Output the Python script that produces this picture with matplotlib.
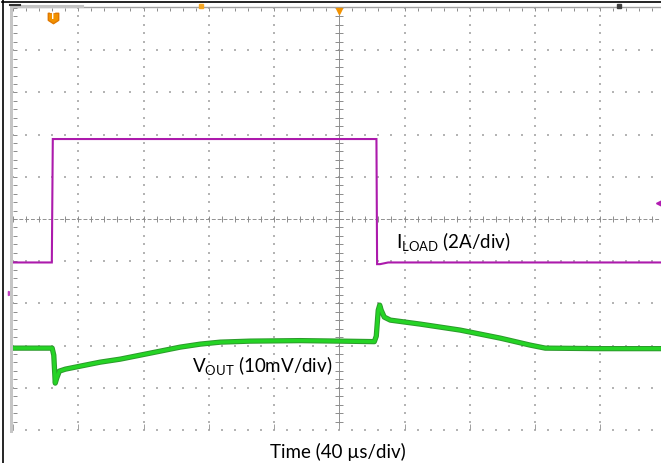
import numpy as np
import matplotlib
matplotlib.use('Agg')
import matplotlib.pyplot as plt
from matplotlib.lines import Line2D
from matplotlib.patches import Rectangle
from matplotlib.path import Path

plt.rcParams['font.family'] = ['Lato', 'DejaVu Sans']
plt.rcParams['mathtext.fontset'] = 'custom'
plt.rcParams['mathtext.rm'] = 'Lato'

W, H = 661, 463

# Scope settings
time_per_div = 40      # us/div
iload_per_div = 2      # A/div
vout_per_div = 10      # mV/div
iload_pos = -1.03      # channel offsets in divisions
vout_pos = -3.06

# Load current step (time in us, current in A)
iload_t = [-200, -176.2, -175.6, 22.8, 23.2, 25.0, 30.0, 200]
iload_a = [0.0, 0.0, 5.85, 5.85, -0.08, -0.08, 0.0, 0.0]

# Output voltage deviation (time in us, mV)
vout_t = [-200, -176.0, -175.0, -174.1, -173.2, -171.6, -167.9, -158.8, -146.5,
          -134.3, -122.0, -109.7, -97.5, -85.2, -72.9, -54.6, -23.9, 0.6,
          21.5, 22.7, 23.9, 24.8, 25.7, 27.6, 31.3, 49.7, 74.2, 98.7, 117.1,
          126.3, 160.0, 200]
vout_mv = [0.0, 0.0, -1.66, -8.29, -7.11, -5.45, -4.98, -4.27, -3.32,
           -2.61, -1.66, -0.71, 0.24, 0.95, 1.42, 1.66, 1.78, 1.66,
           1.54, 2.84, 9.0, 10.19, 9.0, 7.35, 6.64, 5.69, 4.27, 2.37, 0.71,
           0.0, -0.12, -0.12]

fig = plt.figure(figsize=(W / 100, H / 100), dpi=100)
fig.patch.set_facecolor('white')


def fx(x):
    return x / W


def fy(y):
    return 1 - y / H


# graticule: 10 x 10 divisions, right edge runs off the screenshot
ax = fig.add_axes([fx(13), fy(430), 652.5 / W, 422 / H])
ax.set_xlim(-200, 200)
ax.set_ylim(-5, 5)
ax.axis('off')

grid_c = '#b4b4b4'
xs_minor = np.arange(-200, 200.1, time_per_div / 5)
ys_minor = np.arange(-5, 5.01, 0.2)

# dotted division lines
for k in range(-4, 5):
    if k == 0:
        continue
    ax.scatter(xs_minor, np.full_like(xs_minor, k), s=0.7, marker='s',
               color=grid_c, linewidths=0)
    ax.scatter(np.full_like(ys_minor, k * time_per_div), ys_minor, s=0.7,
               marker='s', color=grid_c, linewidths=0)
ax.scatter(xs_minor, np.full_like(xs_minor, -5), s=0.7, marker='s',
           color=grid_c, linewidths=0, clip_on=False)

# centre axes with tick marks
ax.axhline(0, color='#909090', lw=0.7, ls=(0, (4, 2)))
ax.axvline(0, color='#909090', lw=0.7)
ax.vlines(xs_minor, -0.07, 0.07, color='#8c8c8c', lw=0.7)
ax.hlines(ys_minor, -2.4, 2.4, color='#8c8c8c', lw=0.7)

# top and bottom edge ticks
ax.plot([-200, 200], [5.02, 5.02], color='#a0a0a0', lw=1.0, clip_on=False)
ax.plot([-200, -158], [5.05, 5.05], color='#c4c4c4', lw=2.2, clip_on=False)
ax.vlines(xs_minor, 4.92, 5, color='#8c8c8c', lw=0.7)
ax.vlines(np.arange(-200, 201, time_per_div), -5, -4.85, color='#a0a0a0', lw=0.7)
ax.hlines(ys_minor, -200, -197.5, color='#8c8c8c', lw=0.7)

# left bar of the graticule
fig.add_artist(Rectangle((fx(10), fy(433)), 3 / W, 428 / H,
                         transform=fig.transFigure, color='#c6c6c6', lw=0))

# traces
it = np.array(iload_t)
iy = np.array(iload_a) / iload_per_div + iload_pos
ax.plot(it, iy, color='#ac1aac', lw=1.5, solid_joinstyle='miter')

vt = np.array(vout_t)
vy = np.array(vout_mv) / vout_per_div + vout_pos
ax.plot(vt, vy, color='#2c9a2c', lw=3.8, solid_capstyle='butt')
ax.plot(vt, vy, color='#25d425', lw=2.4, solid_capstyle='butt')

# trigger badge
shield = Path([(-1, 1), (1, 1), (1, -0.35), (0, -1), (-1, -0.35), (-1, 1)],
              [Path.MOVETO, Path.LINETO, Path.LINETO, Path.LINETO,
               Path.LINETO, Path.CLOSEPOLY])
ax.plot([-175.5], [4.77], marker=shield, ms=7.5, color='#f29200',
        mec='#e07800', clip_on=False)
ax.text(-175.5, 4.80, 'T', color='white', fontsize=5.5, fontweight='bold',
        ha='center', va='center', family='DejaVu Sans')
ax.plot([0], [4.93], marker='v', ms=5, color='#f29200', clip_on=False)
ax.plot([-84.6], [5.05], marker='s', ms=3.2, color='#f5a623', clip_on=False)
ax.plot([171.6], [5.05], marker='s', ms=2.6, color='#404040', clip_on=False)

# channel markers
ax.plot([196.0], [0.38], marker='<', ms=5, color='#b21cb2', clip_on=False)
ax.plot([-201.8], [-1.75], marker='>', ms=3, color='#c040c0', clip_on=False)

# outer frame
fig.add_artist(Line2D([fx(2.5), fx(2.5)], [0, 1], transform=fig.transFigure,
                      color='black', lw=1.2))
fig.add_artist(Line2D([fx(2), 1], [fy(1.5), fy(1.5)], transform=fig.transFigure,
                      color='black', lw=1.2))
fig.add_artist(Line2D([fx(10), fx(20)], [fy(5), fy(5)], transform=fig.transFigure,
                      color='#303030', lw=1.5))

# labels
fig.text(fx(396), fy(249), r'I$_{\mathrm{LOAD}}$ (2A/div)', fontsize=13.5,
         va='baseline', ha='left')
fig.text(fx(192), fy(373), r'V$_{\mathrm{OUT}}$ (10mV/div)', fontsize=13.5,
         va='baseline', ha='left')
fig.text(fx(338), fy(458), 'Time (40 µs/div)', fontsize=13.5,
         va='baseline', ha='center')

fig.savefig('out.png', dpi=100)
